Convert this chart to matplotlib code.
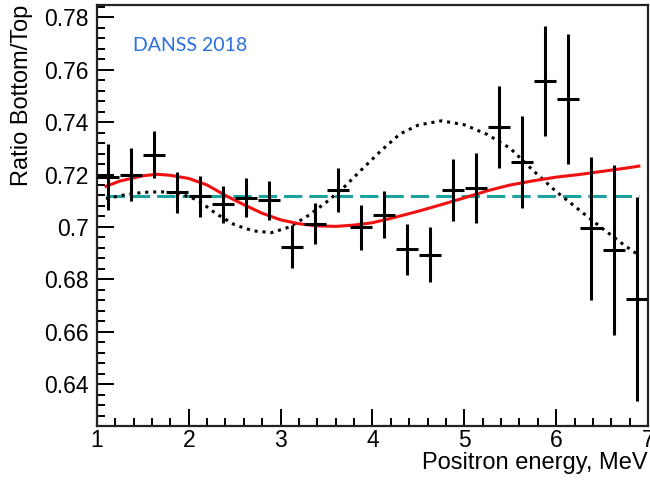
import matplotlib
matplotlib.use("Agg")
import matplotlib.pyplot as plt
import numpy as np
from matplotlib.ticker import MultipleLocator

plt.rcParams["font.family"] = ["Liberation Sans", "DejaVu Sans"]

# data points (0.25 MeV bins)
energy = np.arange(1.125, 7.0, 0.25)
ratio = [0.719, 0.720, 0.7275, 0.7133, 0.7117, 0.7086, 0.7112, 0.7101,
         0.6925, 0.7013, 0.7141, 0.6998, 0.7047, 0.6914, 0.6893, 0.7141,
         0.7150, 0.7381, 0.7249, 0.7557, 0.7487, 0.6995, 0.6912, 0.6724]
ratio_err = [0.0125, 0.010, 0.009, 0.0078, 0.0078, 0.0072, 0.0073, 0.0075,
             0.0083, 0.0077, 0.0083, 0.0086, 0.0091, 0.0097, 0.0105, 0.0119,
             0.0134, 0.0157, 0.0176, 0.021, 0.0248, 0.0273, 0.0325, 0.039]

# best fit curve (red)
fit_x = [1.10, 1.25, 1.5, 1.65, 1.8, 2.0, 2.2, 2.4, 2.6, 2.8, 3.0, 3.2, 3.4,
         3.6, 3.8, 4.0, 4.25, 4.5, 4.75, 5.0, 5.25, 5.5, 5.75, 6.0, 6.25,
         6.5, 6.75, 6.9]
fit_y = [0.7155, 0.7175, 0.7195, 0.7201, 0.7197, 0.7185, 0.7160, 0.7120,
         0.7085, 0.7052, 0.7027, 0.7012, 0.7004, 0.7002, 0.7007, 0.7016,
         0.7037, 0.7060, 0.7085, 0.7111, 0.7138, 0.7160, 0.7176, 0.7190,
         0.7200, 0.7212, 0.7224, 0.7232]

# dotted curve
alt_x = [1.1, 1.3, 1.5, 1.7, 1.9, 2.1, 2.3, 2.5, 2.7, 2.9, 3.1, 3.3, 3.5,
         3.7, 3.9, 4.1, 4.3, 4.5, 4.75, 5.0, 5.25, 5.5, 5.75, 6.0, 6.25,
         6.5, 6.75, 6.9]
alt_y = [0.7108, 0.7122, 0.7132, 0.7134, 0.7128, 0.7102, 0.7050, 0.7008,
         0.6985, 0.6978, 0.7000, 0.7043, 0.7095, 0.7155, 0.7225, 0.7293,
         0.7355, 0.7389, 0.7405, 0.7390, 0.7353, 0.7300, 0.7215, 0.7135,
         0.7065, 0.6995, 0.6928, 0.6892]

# no-oscillation constant
const_x = [1.1, 6.9]
const_y = [0.7118, 0.7118]

fig = plt.figure(figsize=(6.5, 4.8), dpi=100)
ax = fig.add_axes([0.149, 0.1125, 0.848, 0.877])

ax.plot(const_x, const_y, color="#1ca3a0", lw=2.2, dashes=(6, 2.3), zorder=2)
ax.plot(alt_x, alt_y, color="black", lw=2.2, linestyle=(0, (1, 1.6)), zorder=2)
ax.plot(fit_x, fit_y, color="#f01010", lw=2.2, zorder=3)
ax.errorbar(energy, ratio, yerr=ratio_err, xerr=0.12, fmt="none",
            ecolor="black", elinewidth=2.2, capsize=0, zorder=4)

ax.set_xlim(1, 7)
ax.set_ylim(0.624, 0.7847)
ax.xaxis.set_major_locator(MultipleLocator(1))
ax.xaxis.set_minor_locator(MultipleLocator(0.2))
ax.yaxis.set_major_locator(MultipleLocator(0.02))
ax.yaxis.set_minor_locator(MultipleLocator(0.004))
ax.yaxis.set_major_formatter(plt.FuncFormatter(lambda v, p: f"{v:.2f}".rstrip("0")))

ax.tick_params(which="both", direction="in", top=False, right=False,
               width=1.4, labelsize=16.5, colors="black")
ax.tick_params(which="major", length=12, pad=6)
ax.tick_params(axis="x", which="major", pad=2)
ax.tick_params(which="minor", length=6)
for s in ax.spines.values():
    s.set_linewidth(1.6)
    s.set_color("#222222")

ax.set_xlabel("Positron energy, MeV", fontsize=17, loc="right", labelpad=0)
ax.set_ylabel("Ratio Bottom/Top", fontsize=17, loc="top", labelpad=8)

ax.text(0.065, 0.905, "DANSS 2018", transform=ax.transAxes, color="#2a6fe0",
        fontsize=14, family=["Lato", "DejaVu Sans"], ha="left", va="center")

fig.savefig("out.png", dpi=100)
